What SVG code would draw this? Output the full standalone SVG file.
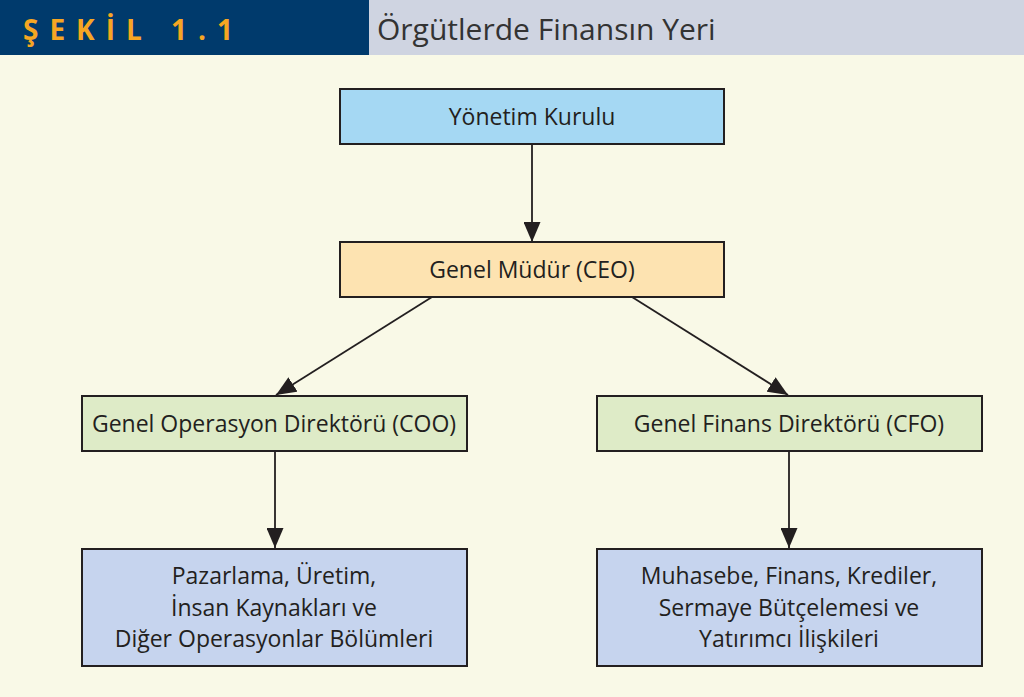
<svg xmlns="http://www.w3.org/2000/svg" width="1024" height="697" viewBox="0 0 1024 697">
<style>
.box{stroke:#231f20;stroke-width:2}
.t{font-family:"Open Sans","Noto Sans","Liberation Sans",sans-serif;font-size:23px;fill:#231f20;text-anchor:middle}
.c{stroke:#231f20;stroke-width:1.8;fill:none;marker-end:url(#ah)}
</style>
<defs>
<marker id="ah" viewBox="0 0 20 17" refX="20" refY="8.5" markerWidth="20" markerHeight="17" markerUnits="userSpaceOnUse" orient="auto">
<path d="M0,0 L20,8.5 L0,17 Z" fill="#231f20"/>
</marker>
</defs>
<rect x="0" y="0" width="1024" height="697" fill="#f9f9e7"/>
<g id="header">
<rect x="0" y="0" width="369" height="55" fill="#003a6c"/>
<rect x="369" y="0" width="655" height="55" fill="#cfd4e1"/>
<text x="23" y="40" font-family="'Open Sans','Noto Sans',sans-serif" font-weight="bold" font-size="28" fill="#f6a623" letter-spacing="11">ŞEKİL 1.1</text>
<text x="377" y="40" font-family="'Open Sans','Noto Sans',sans-serif" font-size="30" fill="#333">Örgütlerde Finansın Yeri</text>
</g>
<g id="connectors">
<line class="c" x1="532" y1="144" x2="532" y2="242"/>
<line class="c" x1="432" y1="297" x2="276" y2="395"/>
<line class="c" x1="632" y1="297" x2="788" y2="395"/>
<line class="c" x1="275" y1="451" x2="275" y2="548"/>
<line class="c" x1="789" y1="451" x2="789" y2="548"/>
</g>
<g id="n-board">
<rect class="box" x="340" y="89" width="384" height="55" fill="#a5d8f3"/>
<text class="t" x="532" y="125">Yönetim Kurulu</text>
</g>
<g id="n-ceo">
<rect class="box" x="340" y="242" width="384" height="55" fill="#fde3b1"/>
<text class="t" x="532" y="278">Genel Müdür (CEO)</text>
</g>
<g id="n-coo">
<rect class="box" x="82" y="396" width="385" height="55" fill="#deebc7"/>
<text class="t" x="274" y="432">Genel Operasyon Direktörü (COO)</text>
</g>
<g id="n-cfo">
<rect class="box" x="597" y="396" width="385" height="55" fill="#deebc7"/>
<text class="t" x="789" y="432">Genel Finans Direktörü (CFO)</text>
</g>
<g id="n-ops">
<rect class="box" x="82" y="549" width="385" height="117" fill="#c6d4ee"/>
<text class="t" x="274" y="584">Pazarlama, Üretim,</text>
<text class="t" x="274" y="615.5">İnsan Kaynakları ve</text>
<text class="t" x="274" y="647">Diğer Operasyonlar Bölümleri</text>
</g>
<g id="n-fin">
<rect class="box" x="597" y="549" width="385" height="117" fill="#c6d4ee"/>
<text class="t" x="789" y="584">Muhasebe, Finans, Krediler,</text>
<text class="t" x="789" y="615.5">Sermaye Bütçelemesi ve</text>
<text class="t" x="789" y="647">Yatırımcı İlişkileri</text>
</g>
</svg>
